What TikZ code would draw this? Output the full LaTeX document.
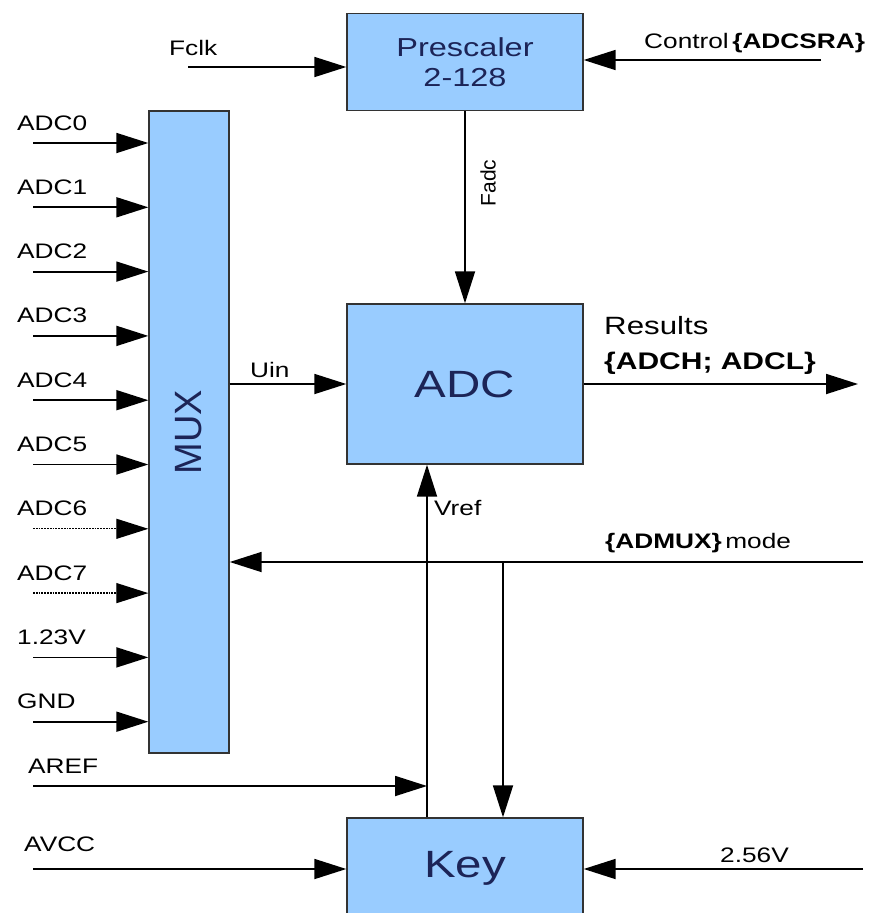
\documentclass[tikz,border=0pt]{standalone}
\usepackage{fontspec}
\setmainfont{Liberation Sans}[FakeStretch=1.25]
\newfontfamily\upsans{Liberation Sans}
\usetikzlibrary{arrows.meta, positioning}

\definecolor{boxfill}{HTML}{99CCFF}
\definecolor{boxtext}{HTML}{1C2457}
\definecolor{boxline}{HTML}{333333}

\begin{document}
\begin{tikzpicture}[
  x=1pt, y=-1pt,
  block/.style={rectangle, draw=boxline, line width=1.4pt, fill=boxfill, text=boxtext, inner sep=0pt},
  arrow/.style={-{Triangle[length=32pt,width=20pt]}, line width=1.8pt},
  lbl/.style={font=\fontsize{21}{24}\selectfont, inner sep=0pt, anchor=base west}
]
\useasboundingbox (0,0) rectangle (882,913);
\clip (0,0) rectangle (882,913);

% blocks
\node[block, minimum width=236pt, minimum height=97pt, align=center, font=\fontsize{26}{30}\selectfont] (prescaler) at (465,62) {Prescaler\\2-128};
\node[block, minimum width=236pt, minimum height=160pt, font=\fontsize{38}{40}\selectfont] (adc) at (465,384) {ADC};
\node[block, minimum width=80pt, minimum height=642pt] (mux) at (189,432) {\rotatebox{90}{\upsans\fontsize{38}{40}\selectfont MUX}};
\node[block, minimum width=236pt, minimum height=100pt, font=\fontsize{38}{40}\selectfont] (key) at (465,868) {Key};

% mux inputs
\foreach \sig [count=\k from 0] in {ADC0,ADC1,ADC2,ADC3,ADC4,ADC5,ADC6,ADC7,1.23V,GND} {
  \coordinate (in\k) at (33,143+64.3*\k);
  \node[lbl] (sig\k) at (17,130+64.3*\k) {\sig};
}
\foreach \k in {0,...,5,8,9}
  \draw[arrow] (in\k) -- (in\k -| mux.west);
\foreach \k in {6,7}
  \draw[arrow, densely dotted, line width=1.3pt] (in\k) -- (in\k -| mux.west);

% clock and control
\coordinate (fclk) at (188,67);
\coordinate (ctrl) at (821,60);
\node[lbl] (fclklab) at (169,55) {Fclk};
\node[lbl] (ctrllab) at (644,48) {Control\,\textbf{\{ADCSRA\}}};
\draw[arrow] (fclk) -- (fclk -| prescaler.west);
\draw[arrow] (ctrl) -- (ctrl -| prescaler.east);
\draw[arrow] (prescaler) -- (adc);
\node[font=\upsans\fontsize{21}{24}\selectfont, rotate=90, inner sep=0pt] (fadclab) at (488,183) {Fadc};

% signal path
\coordinate (res) at (858,387);
\draw[arrow] (adc.west -| mux.east) -- (adc.west);
\node[lbl] (uinlab) at (250,377) {Uin};
\draw[arrow] (adc.east) -- (adc.east -| res);
\node[lbl, font=\fontsize{25}{28}\selectfont] (reslab) at (604,334) {Results};
\node[lbl, font=\fontsize{24}{28}\selectfont] (regslab) at (604,369) {\textbf{\{ADCH; ADCL\}}};

% mode select
\coordinate (mode) at (863,562);
\coordinate (split) at (503,562);
\draw[arrow] (mode) -- (mode -| mux.east);
\draw[arrow] (split) -- (split |- key.north);
\node[lbl] (modelab) at (605,548) {\textbf{\{ADMUX\}}\,mode};

% reference
\coordinate (vref) at (427,786);
\draw[arrow] (key.north -| vref) -- (adc.south -| vref);
\node[lbl] (vreflab) at (434,515) {Vref};
\coordinate (aref) at (33,786);
\coordinate (avcc) at (33,869);
\coordinate (int) at (863,869);
\draw[arrow] (aref) -- (vref);
\draw[arrow] (avcc) -- (avcc -| key.west);
\draw[arrow] (int) -- (int -| key.east);
\node[lbl] (areflab) at (28,773) {AREF};
\node[lbl] (avcclab) at (24,851) {AVCC};
\node[lbl] (intlab) at (720,862) {2.56V};
\end{tikzpicture}
\end{document}
